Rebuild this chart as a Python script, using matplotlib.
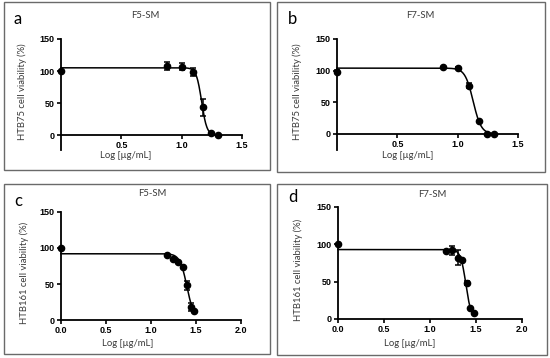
import numpy as np
import matplotlib
matplotlib.use("Agg")
import matplotlib.pyplot as plt
from matplotlib.patches import Rectangle

W, H = 550, 358

# ---------------- data ----------------
a_x = [0.0, 0.875, 1.0, 1.097, 1.176, 1.243, 1.301]
a_y = [100, 108, 107, 98, 43, 2.5, 0.5]
a_err = [0, 6, 5, 6, 13, 0, 0]
a_fit = [105, 0, 1.165, 20]          # top, bottom, logIC50, hill

b_x = [0.0, 0.875, 1.0, 1.097, 1.176, 1.243, 1.301]
b_y = [98.5, 105, 104, 76, 20, 0.5, 0]
b_err = [2, 1, 1, 4, 1, 0, 0]
b_fit = [104, 0, 1.128, 13]

c_x = [0.0, 1.176, 1.243, 1.301, 1.352, 1.398, 1.439, 1.477]
c_y = [100, 90, 85, 80, 74, 48, 18, 12]
c_err = [0, 0, 0, 0, 0, 6, 5, 0]
c_fit = [92, 0, 1.40, 11]

d_x = [0.0, 1.176, 1.243, 1.301, 1.352, 1.398, 1.439, 1.477]
d_y = [100, 91.5, 92, 82, 79, 48.5, 15, 7.5]
d_err = [0, 0, 6, 10, 0, 3, 0, 0]
d_fit = [93, 0, 1.39, 15]

letters = ["a", "b", "c", "d"]
titles = ["F5-SM", "F7-SM", "F5-SM", "F7-SM"]
ylabels = ["HTB75 cell viability (%)", "HTB75 cell viability (%)",
           "HTB161 cell viability (%)", "HTB161 cell viability (%)"]
xlabel = "Log [µg/mL]"
ab_xticks = [0.5, 1.0, 1.5]
cd_xticks = [0.0, 0.5, 1.0, 1.5, 2.0]
yticks = [0, 50, 100, 150]

# ---------------- figure ----------------
fig = plt.figure(figsize=(W / 100, H / 100), dpi=100)
fig.patch.set_facecolor("white")

TICKFONT = dict(family="Liberation Sans", weight="bold", size=6.5)
LABFONT = dict(family="Lato", size=6.8, color="#3a3a3a")


def add_ax(l, t, r, b):
    return fig.add_axes([l / W, 1 - b / H, (r - l) / W, (b - t) / H])


def fx(x, p):
    top, bot, lic, h = p
    return bot + (top - bot) / (1 + 10 ** ((x - lic) * h))


panels = [
    dict(box=(4, 2, 270, 170), ax=(61, 39, 242, 150), xlim=(0, 1.5), ylim=(-23.4, 150),
         xt=ab_xticks, x=a_x, y=a_y, e=a_err, fit=a_fit, xend=1.30, fmt="{:.1f}",
         letter=(13, 19), title=(145, 16), ylab=(22, 92), xlab=(126, 156)),
    dict(box=(277, 2, 545, 172), ax=(337, 39, 518, 150), xlim=(0, 1.5), ylim=(-25.3, 150),
         xt=ab_xticks, x=b_x, y=b_y, e=b_err, fit=b_fit, xend=1.30, fmt="{:.1f}",
         letter=(288, 19), title=(420, 16), ylab=(297, 92), xlab=(408, 156)),
    dict(box=(4, 184, 270, 354), ax=(61, 212, 241, 320), xlim=(0, 2.0), ylim=(0, 150),
         xt=cd_xticks, x=c_x, y=c_y, e=c_err, fit=c_fit, xend=1.477, fmt="{:.1f}",
         letter=(14, 201), title=(152, 194), ylab=(24, 273), xlab=(128, 343)),
    dict(box=(277, 184, 547, 355), ax=(338, 207, 522, 319), xlim=(0, 2.0), ylim=(0, 150),
         xt=cd_xticks, x=d_x, y=d_y, e=d_err, fit=d_fit, xend=1.44, fmt="{:.1f}",
         letter=(288, 197), title=(432, 195), ylab=(298, 270), xlab=(410, 343)),
]

for i, p in enumerate(panels):
    l, t, r, b = p["box"]
    fig.patches.append(Rectangle((l / W, 1 - b / H), (r - l) / W, (b - t) / H,
                                 transform=fig.transFigure, fill=False,
                                 edgecolor="#6a6a6a", linewidth=1.0))
    ax = add_ax(*p["ax"])
    ax.set_xlim(*p["xlim"])
    ax.set_ylim(*p["ylim"])
    ax.patch.set_alpha(0)
    for s in ["top", "right"]:
        ax.spines[s].set_visible(False)
    ax.spines["bottom"].set_position(("data", 0))
    for s in ["left", "bottom"]:
        ax.spines[s].set_linewidth(1.3)
    ax.set_xticks(p["xt"])
    ax.set_xticklabels([p["fmt"].format(v) for v in p["xt"]], fontdict=TICKFONT)
    ax.set_yticks(yticks)
    ax.set_yticklabels([str(v) for v in yticks], fontdict=TICKFONT)
    ax.tick_params(axis="both", direction="out", length=3, width=1.2, pad=1.5)

    xs = np.linspace(0, p["xend"], 400)
    ax.plot(xs, fx(xs, p["fit"]), color="black", lw=1.1, clip_on=False, zorder=3)
    ax.errorbar(p["x"], p["y"], yerr=p["e"], fmt="o", color="black", ms=4.5,
                capsize=2.2, elinewidth=1.1, capthick=1.1, clip_on=False, zorder=4)

    fig.text(p["letter"][0] / W, 1 - p["letter"][1] / H, letters[i], fontsize=12,
             family="Lato", color="black", ha="left", va="center")
    fig.text(p["title"][0] / W, 1 - p["title"][1] / H, titles[i],
             ha="center", va="center", **LABFONT)
    fig.text(p["ylab"][0] / W, 1 - p["ylab"][1] / H, ylabels[i], rotation=90,
             ha="center", va="center", **LABFONT)
    fig.text(p["xlab"][0] / W, 1 - p["xlab"][1] / H, xlabel,
             ha="center", va="center", **LABFONT)

fig.savefig("out.png", dpi=100)
